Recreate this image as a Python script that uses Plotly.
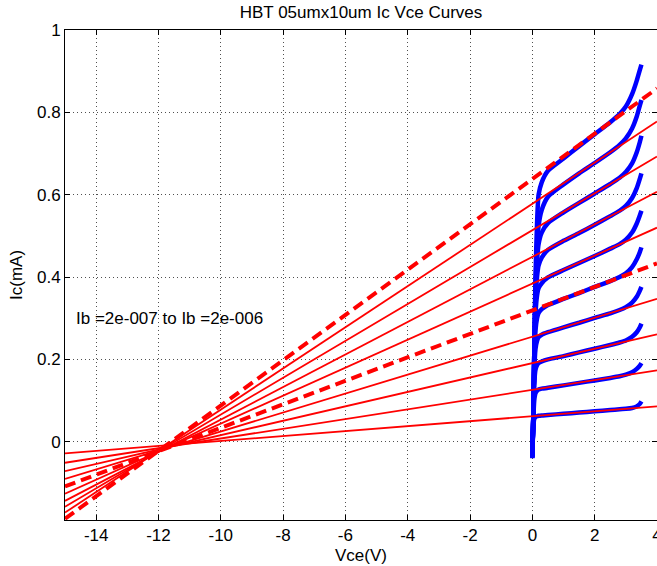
import plotly.graph_objects as go

# ---------------- data ----------------
title_text = "HBT 05umx10um Ic Vce Curves"
x_label = "Vce(V)"
y_label = "Ic(mA)"
note_text = "Ib =2e-007 to Ib =2e-006"

x_ticks = [-14, -12, -10, -8, -6, -4, -2, 0, 2, 4]
x_tick_text = ["-14", "-12", "-10", "-8", "-6", "-4", "-2", "0", "2", "4"]
y_ticks = [0, 0.2, 0.4, 0.6, 0.8, 1]
y_tick_text = ["0", "0.2", "0.4", "0.6", "0.8", "1"]

# measured Vce sweep (V)
vce_meas = [0.0, 0.03, 0.06, 0.10, 0.15, 0.20, 0.30, 0.50, 1.0, 1.5, 2.0, 2.5,
            2.8, 3.0, 3.2, 3.35, 3.45, 3.5]

# measured Ic (mA), one list per base-current step
ic_1 = [-0.015, 0.035, 0.055, 0.060, 0.062, 0.063, 0.064, 0.065, 0.068, 0.071, 0.074, 0.077,
        0.079, 0.080, 0.082, 0.086, 0.092, 0.098]
ic_2 = [-0.020, 0.050, 0.100, 0.118, 0.124, 0.127, 0.129, 0.131, 0.137, 0.143, 0.149, 0.155,
        0.159, 0.163, 0.169, 0.177, 0.185, 0.191]
ic_3 = [-0.025, 0.060, 0.140, 0.175, 0.186, 0.191, 0.195, 0.200, 0.208, 0.217, 0.226, 0.235,
        0.241, 0.246, 0.255, 0.266, 0.278, 0.287]
ic_4 = [-0.030, 0.060, 0.170, 0.225, 0.245, 0.254, 0.260, 0.266, 0.278, 0.289, 0.301, 0.312,
        0.320, 0.327, 0.338, 0.352, 0.367, 0.376]
ic_5 = [-0.032, 0.060, 0.190, 0.270, 0.300, 0.313, 0.322, 0.332, 0.347, 0.361, 0.376, 0.390,
        0.400, 0.409, 0.424, 0.443, 0.461, 0.472]
ic_6 = [-0.034, 0.060, 0.200, 0.310, 0.355, 0.373, 0.385, 0.399, 0.417, 0.434, 0.451, 0.469,
        0.480, 0.491, 0.508, 0.530, 0.550, 0.561]
ic_7 = [-0.036, 0.060, 0.210, 0.340, 0.400, 0.428, 0.447, 0.466, 0.488, 0.507, 0.527, 0.548,
        0.561, 0.573, 0.592, 0.616, 0.639, 0.652]
ic_8 = [-0.038, 0.060, 0.210, 0.360, 0.440, 0.480, 0.508, 0.531, 0.557, 0.580, 0.603, 0.626,
        0.641, 0.655, 0.676, 0.703, 0.728, 0.743]
ic_9 = [-0.039, 0.060, 0.210, 0.370, 0.470, 0.525, 0.563, 0.595, 0.625, 0.652, 0.677, 0.703,
        0.721, 0.737, 0.761, 0.790, 0.817, 0.830]
ic_10 = [-0.040, 0.060, 0.210, 0.400, 0.530, 0.600, 0.630, 0.658, 0.688, 0.718, 0.747, 0.776,
         0.796, 0.814, 0.844, 0.877, 0.903, 0.916]
ic_curves = [ic_1, ic_2, ic_3, ic_4, ic_5, ic_6, ic_7, ic_8, ic_9, ic_10]

# Early-voltage fit lines: Ic at the two ends of the Vce span
fit_vce = [-15.0, 4.0]
fit_ic_left = [-0.028, -0.051, -0.0715, -0.090, -0.1085, -0.126, -0.1435, -0.158, -0.172, -0.187]
fit_ic_right = [0.086, 0.1732, 0.261, 0.347, 0.433, 0.520, 0.607, 0.693, 0.778, 0.858]
fit_dashed = [False, False, False, False, True, False, False, False, False, True]

# ---------------- figure ----------------
FONT = "Liberation Sans, Arial, Helvetica, sans-serif"
FS = 17
fig = go.Figure()

for ic in ic_curves:
    fig.add_trace(go.Scatter(x=vce_meas, y=ic, mode="lines",
                             line=dict(color="#0000FF", width=4.5, shape="spline", smoothing=0.6),
                             showlegend=False, hoverinfo="skip"))

for lo, hi, dashed in zip(fit_ic_left, fit_ic_right, fit_dashed):
    if dashed:
        line = dict(color="#FF0000", width=4, dash="11px,6px")
    else:
        line = dict(color="#FF0000", width=1.8)
    fig.add_trace(go.Scatter(x=fit_vce, y=[lo, hi], mode="lines", line=line,
                             showlegend=False, hoverinfo="skip"))

axis_common = dict(
    showline=True, linecolor="black", linewidth=1, mirror="ticks",
    ticks="inside", ticklen=5, tickcolor="black", tickwidth=1,
    showgrid=True, gridcolor="#505050", gridwidth=1, griddash="1px,3px",
    zeroline=False, tickfont=dict(family=FONT, size=FS, color="black"),
    ticklabeloverflow="allow",
)

fig.update_xaxes(range=[-15, 4], tickvals=x_ticks, ticktext=x_tick_text, **axis_common,
                 title=dict(text=x_label, font=dict(family=FONT, size=FS, color="black"), standoff=4))
fig.update_yaxes(range=[-0.19, 1], tickvals=y_ticks, ticktext=y_tick_text, **axis_common,
                 title=dict(text=y_label, font=dict(family=FONT, size=FS, color="black"), standoff=10))

fig.add_annotation(x=-14.72, y=0.30, xref="x", yref="y", text=note_text, showarrow=False,
                   xanchor="left", yanchor="middle", font=dict(family=FONT, size=FS, color="black"))

fig.update_layout(
    width=657, height=566,
    margin=dict(l=65, r=0, t=30, b=46, autoexpand=False),
    paper_bgcolor="white", plot_bgcolor="white",
    title=dict(text=title_text, x=0.5, xref="paper", xanchor="center",
               y=1 - 12 / 566, yref="container", yanchor="middle",
               font=dict(family=FONT, size=FS, color="black")),
)

fig.write_html("out.html", config={"displayModeBar": False},
               post_script="document.body.style.margin='0';document.body.style.overflow='hidden';")
